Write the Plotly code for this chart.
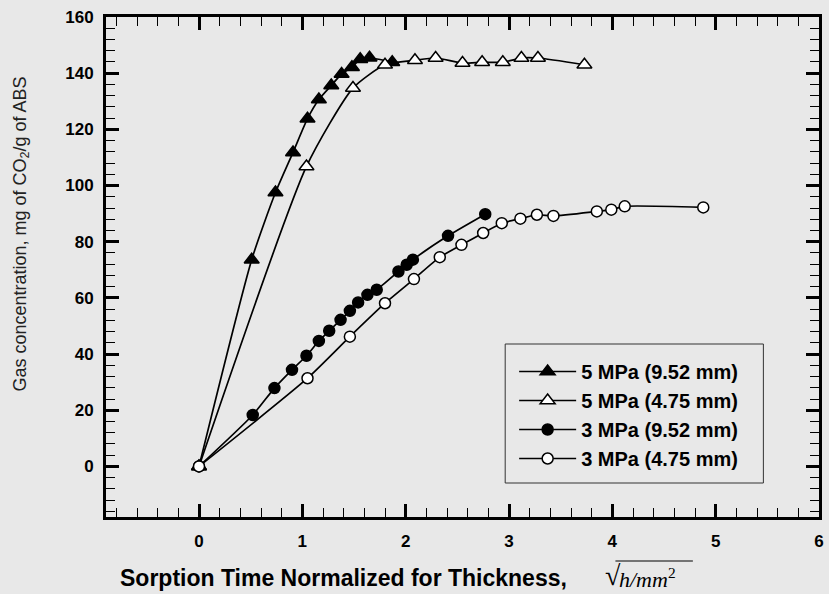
import plotly.graph_objects as go

# ---------------- data ----------------
x_5mpa_952 = [0, 0.51, 0.74, 0.91, 1.05, 1.16, 1.28, 1.38, 1.48, 1.56, 1.65, 1.87]
y_5mpa_952 = [0, 73.6, 97.5, 111.8, 123.8, 130.6, 135.6, 139.7, 142.1, 145.0, 145.5, 143.9]

x_5mpa_475 = [0, 1.04, 1.49, 1.80, 2.09, 2.29, 2.55, 2.74, 2.94, 3.12, 3.28, 3.73]
y_5mpa_475 = [0, 106.8, 134.7, 143.0, 144.6, 145.4, 143.6, 143.9, 143.9, 145.4, 145.4, 143.0]

x_3mpa_952 = [0, 0.52, 0.73, 0.90, 1.04, 1.16, 1.26, 1.37, 1.46, 1.54, 1.63, 1.72,
              1.93, 2.01, 2.07, 2.41, 2.77]
y_3mpa_952 = [0, 18.3, 27.9, 34.4, 39.4, 44.7, 48.3, 52.2, 55.4, 58.4, 61.1, 62.9,
              69.4, 71.8, 73.6, 82.1, 89.8]

x_3mpa_475 = [0, 1.05, 1.46, 1.80, 2.08, 2.33, 2.54, 2.75, 2.93, 3.11, 3.27, 3.43,
              3.85, 3.99, 4.12, 4.88]
y_3mpa_475 = [0, 31.4, 46.2, 58.1, 66.7, 74.5, 78.9, 83.1, 86.6, 88.2, 89.6, 89.2,
              90.8, 91.4, 92.6, 92.2]

series_names = ["5 MPa (9.52 mm)", "5 MPa (4.75 mm)", "3 MPa (9.52 mm)", "3 MPa (4.75 mm)"]

x_tick_vals = [0, 1, 2, 3, 4, 5, 6]
y_tick_vals = [0, 20, 40, 60, 80, 100, 120, 140, 160]

# ---------------- styling ----------------
BG = "#e8e8e8"
W, H = 829, 594
L, R, T, B = 106, 5, 17, 77
PW, PH = W - L - R, H - T - B
SANS = "Liberation Sans, Arial, sans-serif"
SERIF = "Liberation Serif, Times New Roman, serif"


def px2paper_x(px):
    return (px - L) / PW


def px2paper_y(py):
    return (H - B - py) / PH


fig = go.Figure()

specs = [
    (x_5mpa_952, y_5mpa_952, series_names[0], "triangle-up", "black", 13),
    (x_5mpa_475, y_5mpa_475, series_names[1], "triangle-up", "white", 13),
    (x_3mpa_952, y_3mpa_952, series_names[2], "circle", "black", 11),
    (x_3mpa_475, y_3mpa_475, series_names[3], "circle", "white", 11),
]
for xs, ys, name, sym, fill, size in specs:
    fig.add_trace(go.Scatter(
        x=xs, y=ys, name=name, mode="lines+markers",
        line=dict(color="black", width=1.7, shape="spline", smoothing=0.6),
        marker=dict(symbol=sym, size=size, color=fill,
                    line=dict(color="black", width=1.5)),
    ))

axis_common = dict(
    showline=True, linecolor="black", linewidth=2.8, mirror="allticks",
    ticks="inside", ticklen=13, tickwidth=2.6, tickcolor="black",
    showgrid=False, zeroline=False,
    tickfont=dict(family=SANS, size=17, color="black", weight="bold"),
)

fig.update_xaxes(
    range=[-0.9, 6], tickvals=x_tick_vals, ticklabelstandoff=7,
    minor=dict(dtick=0.2, tick0=0, ticks="inside", ticklen=9, tickwidth=1.2,
               tickcolor="black", showgrid=False),
    **axis_common,
)
fig.update_yaxes(
    range=[-18, 160], tickvals=y_tick_vals, ticklabelstandoff=6,
    minor=dict(dtick=4, tick0=0, ticks="inside", ticklen=9, tickwidth=1.2,
               tickcolor="black", showgrid=False),
    **axis_common,
)

fig.update_layout(
    width=W, height=H,
    margin=dict(l=L, r=R, t=T, b=B),
    paper_bgcolor=BG, plot_bgcolor=BG,
    showlegend=True,
    legend=dict(
        x=px2paper_x(517), y=px2paper_y(352), xanchor="left", yanchor="top",
        bgcolor="rgba(0,0,0,0)", borderwidth=0,
        font=dict(family=SANS, size=20, color="black", weight="bold"),
        itemwidth=57, tracegroupgap=0,
    ),
    annotations=[
        dict(text="Gas concentration, mg of CO<sub>2</sub>/g of ABS",
             xref="paper", yref="paper", x=px2paper_x(20), y=px2paper_y(234),
             textangle=-90, showarrow=False, xanchor="center", yanchor="middle",
             font=dict(family=SANS, size=18, color="#222222")),
        dict(text="<b>Sorption Time Normalized for Thickness,</b>",
             xref="paper", yref="paper", x=px2paper_x(118), y=px2paper_y(578),
             showarrow=False, xanchor="left", yanchor="middle",
             font=dict(family=SANS, size=23, color="black")),
        dict(text="√",
             xref="paper", yref="paper", x=px2paper_x(606), y=px2paper_y(575),
             showarrow=False, xanchor="left", yanchor="middle",
             font=dict(family=SERIF, size=28, color="black")),
        dict(text="<i>h/mm</i><sup>2</sup>",
             xref="paper", yref="paper", x=px2paper_x(621), y=px2paper_y(578),
             showarrow=False, xanchor="left", yanchor="middle",
             font=dict(family=SERIF, size=22, color="black")),
    ],
    shapes=[
        # legend frame
        dict(type="rect", xref="paper", yref="paper",
             x0=px2paper_x(508), x1=px2paper_x(768), y0=px2paper_y(483), y1=px2paper_y(344),
             line=dict(color="#333333", width=1), fillcolor="rgba(0,0,0,0)", layer="below"),
        # overline of the square-root sign
        dict(type="line", xref="paper", yref="paper",
             x0=px2paper_x(619), x1=px2paper_x(697), y0=px2paper_y(561), y1=px2paper_y(561),
             line=dict(color="black", width=1)),
    ],
)

fig.write_html("out.html", config={"displayModeBar": False},
               post_script="document.body.style.margin='0px';")
